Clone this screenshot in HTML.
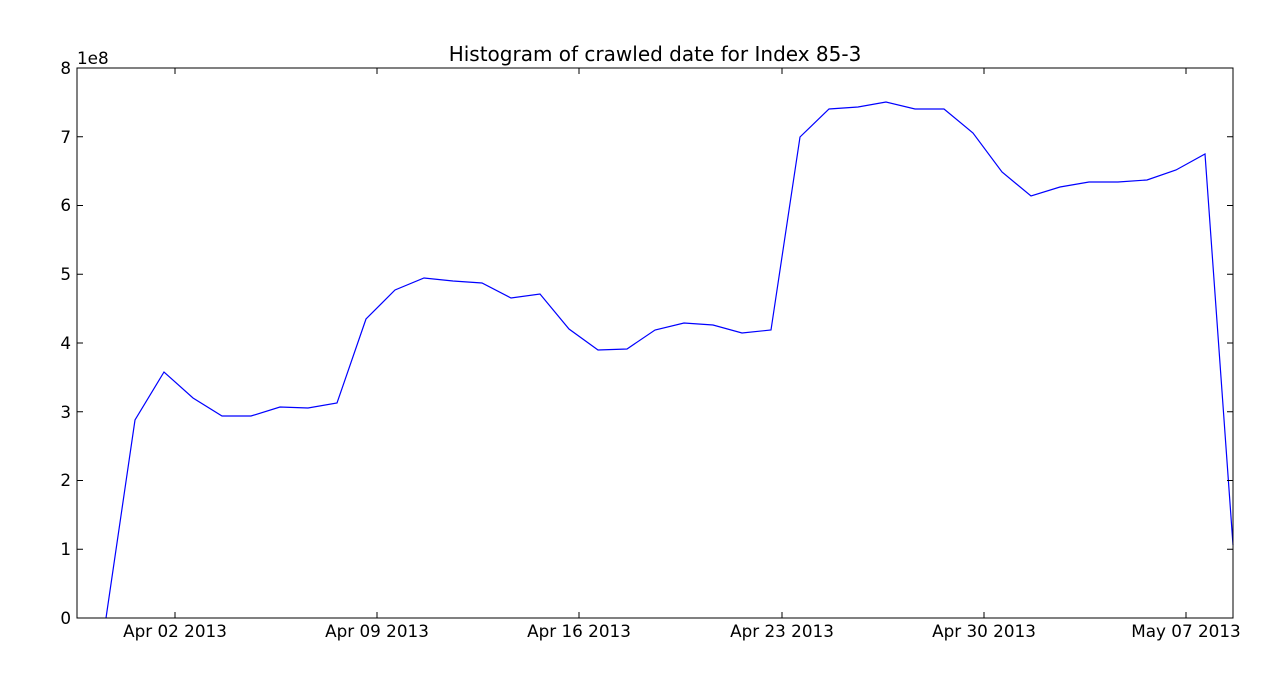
<!DOCTYPE html>
<html><head><meta charset="utf-8"><style>
html,body{margin:0;padding:0;background:#fff;}
svg text{font-family:"DejaVu Sans","Liberation Sans",sans-serif;font-size:16.8px;fill:#000;}
</style></head><body>
<svg width="1285" height="688" viewBox="0 0 1285 688" xmlns="http://www.w3.org/2000/svg">
<rect width="1285" height="688" fill="#fff"/>
<text x="655" y="61" text-anchor="middle" style="font-size:20px">Histogram of crawled date for Index 85-3</text>
<polyline fill="none" stroke="#0000ff" stroke-width="1.2" points="106,618 135,420 164,372 193,398 222,416 251,416 280,407 308,408 337,403 366,319 395,290 424,278 453,281 482,283 511,298 540,294 569,329 598,350 627,349 655,330 684,323 713,325 742,333 771,330 800,137 829,109 858,107 886,102 915,109 944,109 973,133 1002,172 1031,196 1060,187 1089,182 1118,182 1147,180 1176,170 1205,154 1233,545"/>
<rect x="77" y="68" width="1156" height="550" fill="none" stroke="#000" stroke-width="1"/>
<g stroke="#000" stroke-width="1">
<path d="M175,618v-6M175,68v6M377,618v-6M377,68v6M579,618v-6M579,68v6M782,618v-6M782,68v6M984,618v-6M984,68v6M1186,618v-6M1186,68v6"/>
<path d="M77,549.25h6M1233,549.25h-6M77,480.5h6M1233,480.5h-6M77,411.75h6M1233,411.75h-6M77,343h6M1233,343h-6M77,274.25h6M1233,274.25h-6M77,205.5h6M1233,205.5h-6M77,136.75h6M1233,136.75h-6"/>
</g>
<g text-anchor="middle">
<text x="175" y="637">Apr 02 2013</text>
<text x="377" y="637">Apr 09 2013</text>
<text x="579" y="637">Apr 16 2013</text>
<text x="782" y="637">Apr 23 2013</text>
<text x="984" y="637">Apr 30 2013</text>
<text x="1186" y="637">May 07 2013</text>
</g>
<g text-anchor="end">
<text x="71" y="624">0</text>
<text x="71" y="555">1</text>
<text x="71" y="486">2</text>
<text x="71" y="418">3</text>
<text x="71" y="349">4</text>
<text x="71" y="280">5</text>
<text x="71" y="211">6</text>
<text x="71" y="143">7</text>
<text x="71" y="74">8</text>
</g>
<text x="77" y="64">1e8</text>
</svg>
</body></html>
